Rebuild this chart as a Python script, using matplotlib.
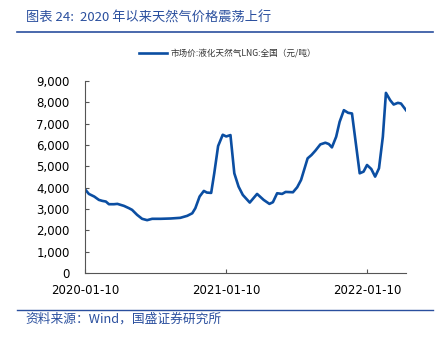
import pandas as pd
import matplotlib
matplotlib.use("Agg")
import matplotlib.pyplot as plt
import matplotlib.dates as mdates
from matplotlib.ticker import FuncFormatter

plt.rcParams["font.family"] = ["Noto Sans CJK SC", "DejaVu Sans"]

# LNG market price, national (yuan/ton)
dates = [
    "2020-01-10", "2020-01-20", "2020-02-03", "2020-02-15", "2020-02-24",
    "2020-03-04", "2020-03-12", "2020-03-25", "2020-04-03", "2020-04-20",
    "2020-05-03", "2020-05-11", "2020-05-24", "2020-06-06", "2020-06-19",
    "2020-07-02", "2020-07-24", "2020-08-19", "2020-09-13", "2020-10-01",
    "2020-10-14", "2020-10-22", "2020-11-02", "2020-11-13", "2020-11-21",
    "2020-12-02", "2020-12-10", "2020-12-20", "2021-01-01", "2021-01-10",
    "2021-01-21", "2021-01-31", "2021-02-11", "2021-02-22", "2021-03-12",
    "2021-03-31", "2021-04-17", "2021-05-02", "2021-05-11", "2021-05-22",
    "2021-06-04", "2021-06-13", "2021-07-02", "2021-07-13", "2021-07-23",
    "2021-08-09", "2021-08-19", "2021-08-29", "2021-09-11", "2021-09-24",
    "2021-10-03", "2021-10-11", "2021-10-22", "2021-10-31", "2021-11-11",
    "2021-11-22", "2021-12-02", "2021-12-22", "2022-01-01", "2022-01-10",
    "2022-01-21", "2022-01-31", "2022-02-10", "2022-02-20", "2022-02-28",
    "2022-03-11", "2022-03-20", "2022-03-31", "2022-04-08", "2022-04-21",
]
prices = [
    3925, 3707, 3583, 3427, 3380, 3350, 3224, 3224, 3240, 3146,
    3037, 2960, 2726, 2540, 2477, 2540, 2540, 2555, 2586, 2680,
    2800, 3037, 3583, 3847, 3770, 3754, 4673, 5950, 6480, 6400,
    6464, 4673, 4050, 3660, 3302, 3707, 3427, 3240, 3318, 3738,
    3707, 3800, 3785, 4019, 4361, 5374, 5530, 5732, 6028, 6106,
    6044, 5888, 6386, 7087, 7632, 7508, 7477, 4673, 4751, 5062,
    4875, 4517, 4907, 6386, 8442, 8100, 7897, 7975, 7944, 7632,
]
tick_dates = ["2020-01-10", "2021-01-10", "2022-01-10"]
series_name = "市场价:液化天然气LNG:全国（元/吨）"
title = "图表 24:  2020 年以来天然气价格震荡上行"
source = "资料来源：Wind，国盛证券研究所"

x = pd.to_datetime(dates)
blue = "#0b4ea2"
dark = "#2a4f9e"

fig = plt.figure(figsize=(4.46, 3.41), dpi=100)
ax = fig.add_axes([0.1906, 0.1994, 0.7197, 0.5631])

line, = ax.plot(x, prices, color=blue, linewidth=1.9)

ax.set_xlim(x[0], x[-1])
ax.set_ylim(0, 9000)
ax.set_yticks(range(0, 9001, 1000))
ax.yaxis.set_major_formatter(FuncFormatter(lambda v, p: f"{int(v):,}"))
ax.set_xticks(pd.to_datetime(tick_dates))
ax.xaxis.set_major_formatter(mdates.DateFormatter("%Y-%m-%d"))

for s in ["top", "right"]:
    ax.spines[s].set_visible(False)
for s in ["left", "bottom"]:
    ax.spines[s].set_color("#555555")
    ax.spines[s].set_linewidth(0.8)
ax.tick_params(direction="in", length=3, width=0.8, color="#555555",
               labelsize=8.5, labelcolor="black")
ax.tick_params(axis="y", pad=11)
ax.tick_params(axis="x", pad=8)
for lab in ax.get_xticklabels() + ax.get_yticklabels():
    lab.set_family("DejaVu Sans")

# Legend above the plot
fig.legend([line], [series_name], loc="center", bbox_to_anchor=(0.51, 0.842),
           frameon=False, fontsize=6.2, handlelength=3.2, handletextpad=0.4,
           labelcolor="#333333")

# Title and separator lines
fig.text(0.058, 0.947, title, fontsize=9.5, color=dark, style="italic",
         ha="left", va="center")
fig.add_artist(plt.Line2D([0.038, 0.971], [0.906, 0.906], color=dark,
                          linewidth=1.2, transform=fig.transFigure))
fig.add_artist(plt.Line2D([0.038, 0.971], [0.091, 0.091], color=dark,
                          linewidth=1.0, transform=fig.transFigure))
fig.text(0.058, 0.064, source, fontsize=9.2, color=dark, style="italic",
         ha="left", va="center")

fig.savefig("out.png", dpi=100)
